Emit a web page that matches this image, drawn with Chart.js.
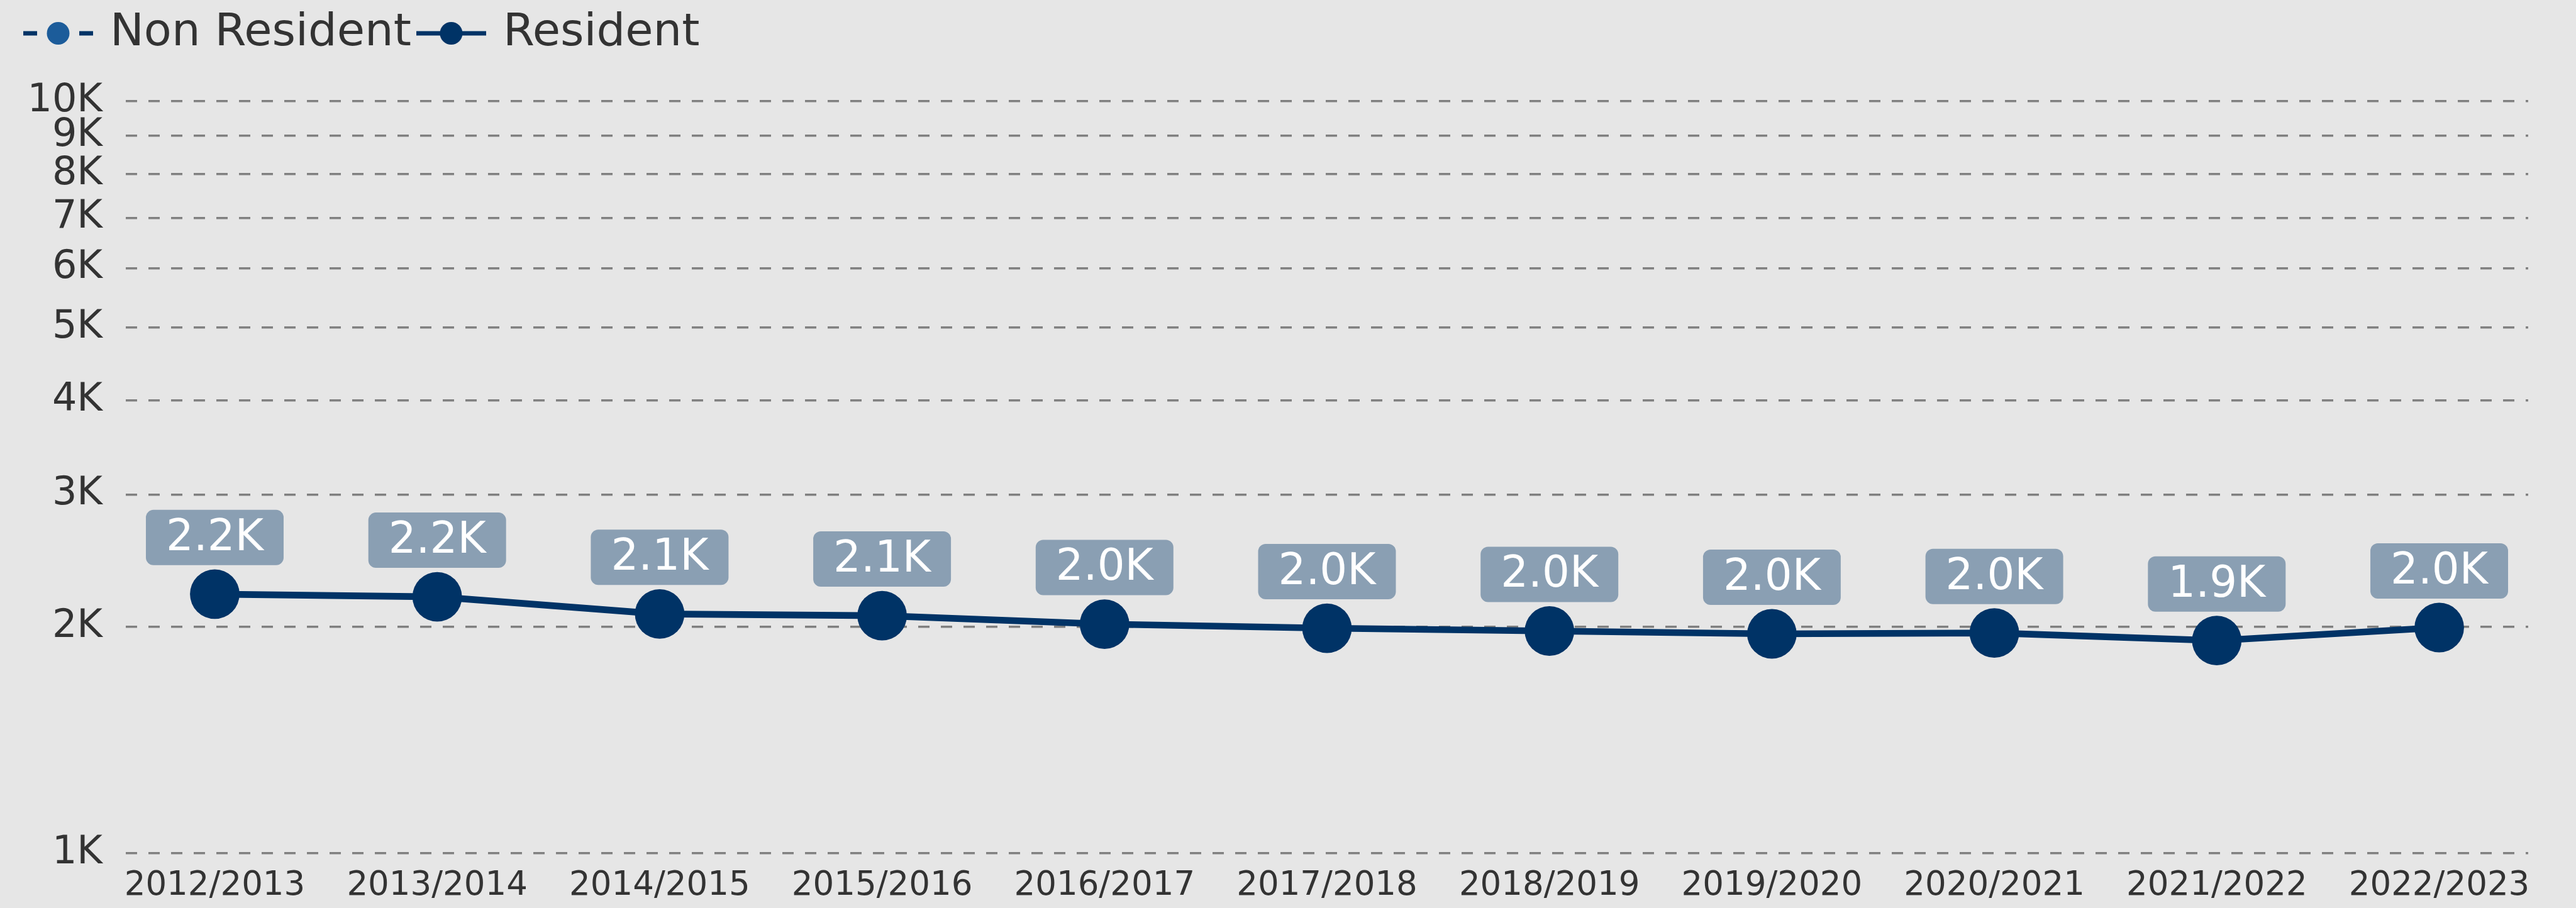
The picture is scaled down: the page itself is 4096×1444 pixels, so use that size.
<!DOCTYPE html>
<html>
<head>
<meta charset="utf-8">
<script src="https://cdn.jsdelivr.net/npm/chart.js@4"></script>
<style>
  html, body { margin: 0; padding: 0; background: #e6e6e6; }
  #chart { display: block; }
</style>
</head>
<body>
<canvas id="chart" width="4096" height="1444"></canvas>
<script>
// chart values
const years = ['2012/2013', '2013/2014', '2014/2015', '2015/2016', '2016/2017', '2017/2018',
               '2018/2019', '2019/2020', '2020/2021', '2021/2022', '2022/2023'];
const residentValues = [2211, 2193, 2081, 2070, 2017, 1992, 1975, 1958, 1963, 1918, 1996];
const nonResidentValues = [null, null, null, null, null, null, null, null, null, null, null];
const yTickValues = [1000, 2000, 3000, 4000, 5000, 6000, 7000, 8000, 9000, 10000];

const navy = '#003366';
const lightBlue = '#1c5c9a';
const labelFill = '#8a9fb3';
const textColor = '#333333';

// legend icons: line with a dot in the middle
function makeLegendIcon(dotColor, dashed) {
    const c = document.createElement('canvas');
    c.width = 111;
    c.height = 40;
    const g = c.getContext('2d');
    g.strokeStyle = navy;
    g.lineWidth = 7;
    if (dashed) {
        g.beginPath(); g.moveTo(0, 20); g.lineTo(22, 20); g.stroke();
        g.beginPath(); g.moveTo(89, 20); g.lineTo(111, 20); g.stroke();
    } else {
        g.beginPath(); g.moveTo(0, 20); g.lineTo(111, 20); g.stroke();
    }
    g.fillStyle = dotColor;
    g.beginPath();
    g.arc(55.5, 20, 18, 0, Math.PI * 2);
    g.fill();
    return c;
}
const legendIcons = [makeLegendIcon(lightBlue, true), makeLegendIcon(navy, false)];

// fixed band height so the plot area sits where the reference has it
const legendBand = {
    id: 'legendBand',
    beforeInit(chart) {
        const fit = chart.legend.fit;
        chart.legend.fit = function () {
            fit.call(this);
            this.height = 161;
        };
    }
};

// value boxes above every Resident point
const valueBoxes = {
    id: 'valueBoxes',
    afterDatasetsDraw(chart) {
        const ctx = chart.ctx;
        const meta = chart.getDatasetMeta(1);
        ctx.save();
        ctx.font = '69px "DejaVu Sans"';
        ctx.textAlign = 'center';
        ctx.textBaseline = 'middle';
        meta.data.forEach((pt, i) => {
            const v = residentValues[i];
            if (v == null) return;
            const text = (v / 1000).toFixed(1) + 'K';
            const w = ctx.measureText(text).width + 64;
            const h = 88;
            const bottom = pt.y - 46;
            ctx.fillStyle = labelFill;
            ctx.beginPath();
            ctx.roundRect(pt.x - w / 2, bottom - h, w, h, 12);
            ctx.fill();
            ctx.fillStyle = '#ffffff';
            ctx.fillText(text, pt.x, bottom - h / 2 + 2);
        });
        ctx.restore();
    }
};

Chart.defaults.font.family = '"DejaVu Sans"';
Chart.defaults.color = textColor;

new Chart(document.getElementById('chart'), {
    type: 'line',
    data: {
        datasets: [
            {
                label: 'Non Resident',
                data: nonResidentValues.map((v, i) => ({ x: i, y: v })),
                borderColor: navy,
                backgroundColor: lightBlue,
                pointBackgroundColor: lightBlue,
                borderDash: [22, 22],
                borderWidth: 10.6,
                pointRadius: 39.4,
                pointBorderWidth: 0
            },
            {
                label: 'Resident',
                data: residentValues.map((v, i) => ({ x: i, y: v })),
                borderColor: navy,
                backgroundColor: navy,
                pointBackgroundColor: navy,
                borderWidth: 10.6,
                pointRadius: 39.4,
                pointHoverRadius: 39.4,
                pointBorderWidth: 0,
                tension: 0
            }
        ]
    },
    options: {
        responsive: false,
        animation: false,
        devicePixelRatio: 1,
        layout: { padding: { left: 29, right: 76, top: 0, bottom: 0 } },
        plugins: {
            tooltip: { enabled: false },
            legend: {
                position: 'top',
                align: 'start',
                labels: {
                    usePointStyle: true,
                    pointStyleWidth: 93,
                    padding: 17,
                    color: textColor,
                    font: { size: 72 },
                    generateLabels(chart) {
                        const items = Chart.defaults.plugins.legend.labels.generateLabels(chart);
                        items.forEach((it, i) => { it.pointStyle = legendIcons[i]; });
                        return items;
                    }
                }
            }
        },
        scales: {
            x: {
                type: 'linear',
                min: -0.4,
                max: 10.4,
                afterBuildTicks(scale) {
                    scale.ticks = years.map((_, i) => ({ value: i }));
                },
                afterFit(scale) { scale.height = 87; },
                grid: { display: false },
                border: { display: false },
                ticks: {
                    autoSkip: false,
                    maxRotation: 0,
                    padding: 12,
                    font: { size: 53 },
                    color: textColor,
                    callback: (v) => years[v]
                }
            },
            y: {
                type: 'logarithmic',
                min: 1000,
                max: 10000,
                afterBuildTicks(scale) {
                    scale.ticks = yTickValues.map(v => ({ value: v }));
                },
                afterFit(scale) { scale.width = 171; },
                grid: { color: '#808080', lineWidth: 3.5, drawTicks: false },
                border: { display: false, dash: [18, 18] },
                ticks: {
                    autoSkip: false,
                    padding: 37,
                    font: { size: 62 },
                    color: textColor,
                    callback: (v) => (v / 1000) + 'K'
                }
            }
        }
    },
    plugins: [legendBand, valueBoxes]
});
</script>
</body>
</html>
